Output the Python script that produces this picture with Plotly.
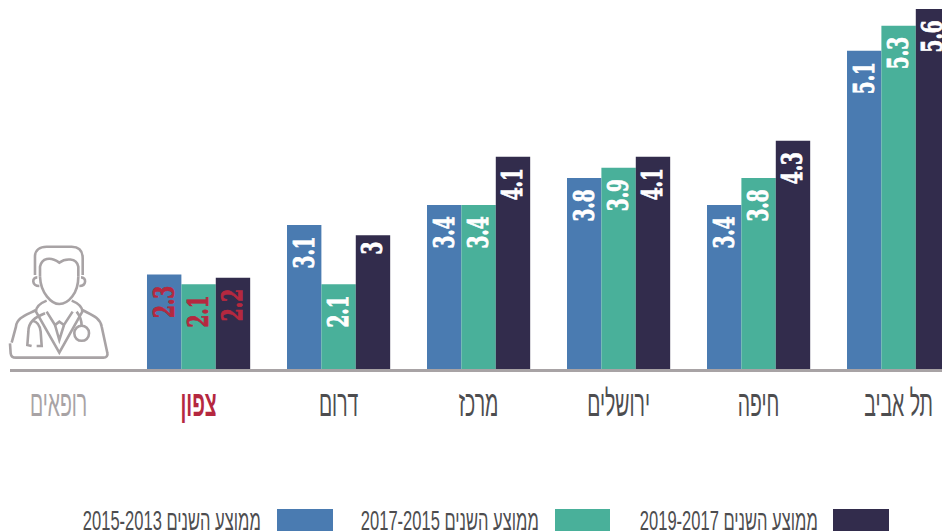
import plotly.graph_objects as go

# Category order left to right; the first slot holds only the doctor icon.
axis_slots = ["רופאים", "צפון", "דרום", "מרכז", "ירושלים", "חיפה", "תל אביב"]
regions = axis_slots[1:]

# Numbers printed on the bars
labels_1315 = ["2.3", "3.1", "3.4", "3.8", "3.4", "5.1"]
labels_1517 = ["2.1", "2.1", "3.4", "3.9", "3.8", "5.3"]
labels_1719 = ["2.2", "3", "4.1", "4.1", "4.3", "5.6"]

# Bar lengths as drawn in the reference. The original is not proportional to
# its printed numbers, so lengths are read separately (5.6 bar = 5.6 units).
drawn_1315 = [1.47, 2.24, 2.55, 2.97, 2.55, 4.95]
drawn_1517 = [1.32, 1.32, 2.55, 3.13, 2.97, 5.34]
drawn_1719 = [1.42, 2.08, 3.30, 3.30, 3.55, 5.60]

series_names = ["ממוצע השנים 2015-2013", "ממוצע השנים 2017-2015", "ממוצע השנים 2019-2017"]

BLUE, GREEN, DARK = "#4a7bb1", "#49b09a", "#322c4c"
RED, GREY, TEXT = "#b5283f", "#a8a3a5", "#4d4d4f"
W, H, L, B = 942, 532, 10, 163
BAR_FONT = "DejaVu Serif, serif"
LBL_FONT = "Liberation Sans, sans-serif"

def px(x):
    return (x - L) / (W - L)

def py(y):
    return (H - B - y) / (H - B)

fig = go.Figure()
for name, drawn, labels, color in [
    (series_names[0], drawn_1315, labels_1315, BLUE),
    (series_names[1], drawn_1517, labels_1517, GREEN),
    (series_names[2], drawn_1719, labels_1719, DARK),
]:
    fig.add_bar(
        x=regions, y=drawn, name=name, text=labels, marker=dict(color=color, line_width=0),
        textposition="inside", insidetextanchor="end", textangle=-90, constraintext="none",
        insidetextfont=dict(family=BAR_FONT, size=28,
                            color=[RED if r == "צפון" else "white" for r in regions],
                            weight="bold"),
        cliponaxis=True, showlegend=False, hoverinfo="skip",
    )

ticktext = [f'<span style="color:{GREY}">{axis_slots[0]}</span>',
            f'<b><span style="color:{RED}">{axis_slots[1]}</span></b>'] + axis_slots[2:]

fig.update_layout(
    width=W, height=H, margin=dict(l=L, r=0, t=0, b=B, pad=0), autosize=False,
    paper_bgcolor="white", plot_bgcolor="white", barmode="group", bargap=0.263, bargroupgap=0,
    showlegend=False,
    xaxis=dict(type="category", categoryorder="array", categoryarray=axis_slots,
               tickmode="array", tickvals=axis_slots, ticktext=ticktext, automargin=False,
               range=[-0.347, 6.31], showline=True, linecolor=GREY, linewidth=3,
               ticks="outside", ticklen=1, tickcolor="rgba(0,0,0,0)", showgrid=False,
               tickfont=dict(family=LBL_FONT, size=36, color=TEXT), fixedrange=True),
    yaxis=dict(range=[0, 5.74], visible=False, fixedrange=True, automargin=False),
)

# Legend key: text to the left of each swatch
for name, color, x0, x1, tx in [
    (series_names[0], BLUE, 277, 333, 261),
    (series_names[1], GREEN, 555, 610, 539),
    (series_names[2], DARK, 833, 889, 818),
]:
    fig.add_shape(type="rect", xref="paper", yref="paper", x0=px(x0), x1=px(x1),
                  y0=py(531), y1=py(509), fillcolor=color, line_width=0)
    fig.add_annotation(xref="paper", yref="paper", x=px(tx - 89), y=py(520), text=name, showarrow=False,
                       xanchor="center", yanchor="middle",
                       font=dict(family=LBL_FONT, size=28, color=TEXT))

# Doctor icon, traced in zoom-crop coordinates (3x, origin at 0,230)
def Z(x, y):
    return f"{px(x / 3):.4f} {py(230 + y / 3):.4f}"

def path(*parts):
    return " ".join(p if isinstance(p, str) else Z(*p) for p in parts)

icon = [
    path("M", (105, 135), "L", (105, 80), "C", (105, 60), (120, 50), (140, 50), "L", (215, 50), "C", (238, 50), (248, 62), (248, 85), "L", (248, 135)),
    path("M", (120, 140), "L", (120, 110), "C", (125, 85), (150, 78), (178, 98), "C", (195, 85), (230, 82), (235, 110), "L", (235, 140)),
    path("M", (120, 140), "C", (122, 190), (155, 222), (178, 222), "C", (205, 222), (235, 190), (235, 140)),
    path("M", (112, 142), "C", (95, 142), (95, 168), (118, 168)),
    path("M", (243, 142), "C", (260, 142), (260, 168), (238, 168)),
    path("M", (108, 240), "C", (80, 255), (50, 262), (48, 290), "L", (35, 338)),
    path("M", (30, 340), "L", (32, 370), "C", (33, 380), (40, 383), (48, 383), "L", (310, 383), "C", (320, 383), (324, 376), (322, 368), "L", (305, 290), "C", (300, 262), (275, 255), (247, 240)),
    path("M", (140, 212), "C", (120, 220), (108, 230), (108, 245), "L", (178, 368), "L", (247, 245), "C", (247, 230), (235, 220), (215, 212)),
    path("M", (140, 245), "L", (165, 285), "L", (178, 275), "L", (192, 285), "L", (218, 245)),
    path("M", (165, 285), "L", (178, 330), "L", (192, 285)),
    path("M", (135, 250), "C", (105, 262), (85, 275), (85, 305), "L", (82, 345), "L", (95, 348)),
    path("M", (110, 348), "L", (125, 348), "L", (122, 305), "C", (120, 285), (112, 275), (98, 272)),
    path("M", (230, 245), "C", (240, 258), (245, 270), (245, 288)),
    path("M", (223, 310), "C", (223, 280), (267, 280), (267, 310), "C", (267, 340), (223, 340), (223, 310), "Z"),
]
for d in icon:
    fig.add_shape(type="path", xref="paper", yref="paper", path=d,
                  line=dict(color=GREY, width=2.6), fillcolor="rgba(0,0,0,0)")

# The page margin is removed, and texts are condensed to the narrow face of the original.
post = """
document.body.style.margin = '0';
document.documentElement.style.overflow = 'hidden';
function squeeze(sel, f) {
  document.querySelectorAll(sel).forEach(function (t) {
    var n = t.getComputedTextLength();
    if (n > 0) { t.setAttribute('textLength', n * f); t.setAttribute('lengthAdjust', 'spacingAndGlyphs'); }
  });
}
squeeze('text.bartext', 0.66);
squeeze('.xtick text', 0.54);
squeeze('.annotation-text', 0.59);
document.querySelectorAll('text.bartext').forEach(function (t) {
  t.style.stroke = t.style.fill; t.style.strokeWidth = '0.9px';
});
"""
fig.write_html("out.html", post_script=post, config={"displayModeBar": False})
